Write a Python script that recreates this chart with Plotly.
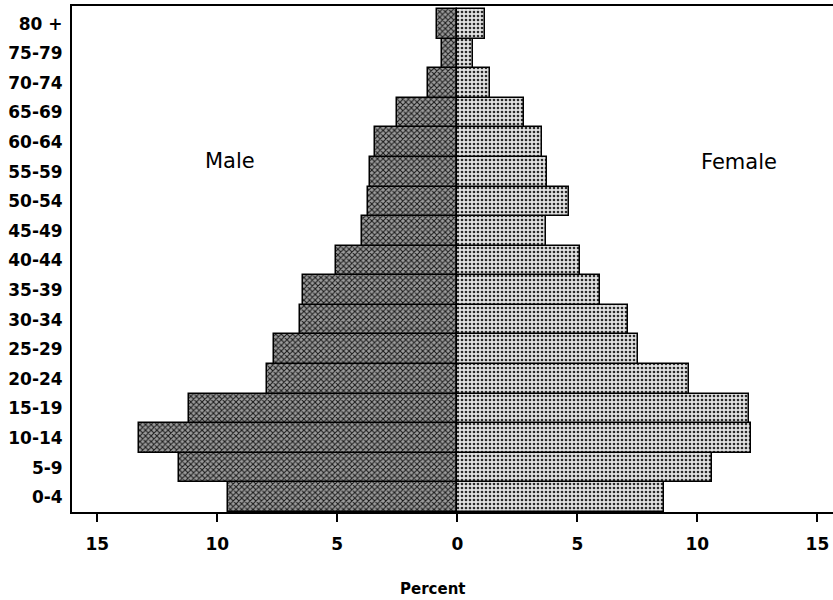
import plotly.graph_objects as go

age_groups = ["0-4", "5-9", "10-14", "15-19", "20-24", "25-29", "30-34", "35-39",
              "40-44", "45-49", "50-54", "55-59", "60-64", "65-69", "70-74", "75-79", "80 +"]
male_pct = [9.57, 11.6, 13.27, 11.16, 7.94, 7.63, 6.54, 6.44,
            5.06, 3.95, 3.72, 3.65, 3.44, 2.5, 1.2, 0.65, 0.86]
female_pct = [8.6, 10.61, 12.22, 12.14, 9.65, 7.51, 7.12, 5.94,
              5.12, 3.71, 4.65, 3.72, 3.54, 2.77, 1.36, 0.66, 1.16]
x_tick_vals = [-15, -10, -5, 0, 5, 10, 15]
x_tick_text = ["15", "10", "5", "0", "5", "10", "15"]

fig = go.Figure()
fig.add_trace(go.Bar(
    y=age_groups, x=[-v for v in male_pct], orientation="h", name="Male",
    marker=dict(color="#7a7a7a",
                line=dict(color="black", width=1.5),
                pattern=dict(shape="x", fgcolor="#1a1a1a", bgcolor="#9c9c9c",
                             size=4, solidity=0.45, fillmode="replace")),
))
fig.add_trace(go.Bar(
    y=age_groups, x=female_pct, orientation="h", name="Female",
    marker=dict(color="#d0d0d0",
                line=dict(color="black", width=1.5),
                pattern=dict(shape=".", fgcolor="#2a2a2a", bgcolor="#e2e2e2",
                             size=4, solidity=0.35, fillmode="replace")),
))

fig.update_layout(
    width=833, height=600,
    margin=dict(l=72, r=0, t=6, b=88, autoexpand=False),
    paper_bgcolor="white", plot_bgcolor="white",
    barmode="overlay", bargap=0,
    showlegend=False,
    font=dict(family="DejaVu Sans", color="black"),
    xaxis=dict(
        range=[-16.05, 15.65], tickvals=x_tick_vals, ticktext=x_tick_text,
        showgrid=False, zeroline=False, automargin=False,
        showline=True, linecolor="black", linewidth=2, mirror=True,
        ticks="outside", ticklen=8, tickwidth=1.5, tickcolor="black",
        ticklabelstandoff=8,
        tickfont=dict(family="DejaVu Sans", size=17, color="black", weight="bold"),
    ),
    yaxis=dict(
        categoryorder="array", categoryarray=age_groups,
        range=[-0.5, 16.6], automargin=False,
        showgrid=False, zeroline=False,
        showline=True, linecolor="black", linewidth=2, mirror=False,
        ticks="", ticklabelstandoff=4,
        tickfont=dict(family="DejaVu Sans", size=17, color="black", weight="bold"),
    ),
    annotations=[
        dict(text="Male", x=230, y=161, xref="paper", yref="paper", showarrow=False,
             font=dict(family="DejaVu Sans", size=21, color="black")),
        dict(text="Female", x=739, y=162, xref="paper", yref="paper", showarrow=False,
             font=dict(family="DejaVu Sans", size=21, color="black")),
        dict(text="Percent", x=432, y=589, xref="paper", yref="paper", showarrow=False,
             font=dict(family="DejaVu Sans", size=15, color="black", weight="bold")),
    ],
)

# convert pixel positions for annotations into paper coordinates
plot_l, plot_r, plot_t, plot_b = 72, 833, 6, 512
for a in fig.layout.annotations:
    px, py = a.x, a.y
    a.x = (px - plot_l) / (plot_r - plot_l)
    a.y = (plot_b - py) / (plot_b - plot_t)
    a.xanchor = "center"
    a.yanchor = "middle"

fig.write_html("out.html", config={"displayModeBar": False},
               post_script="document.body.style.margin='0';")
